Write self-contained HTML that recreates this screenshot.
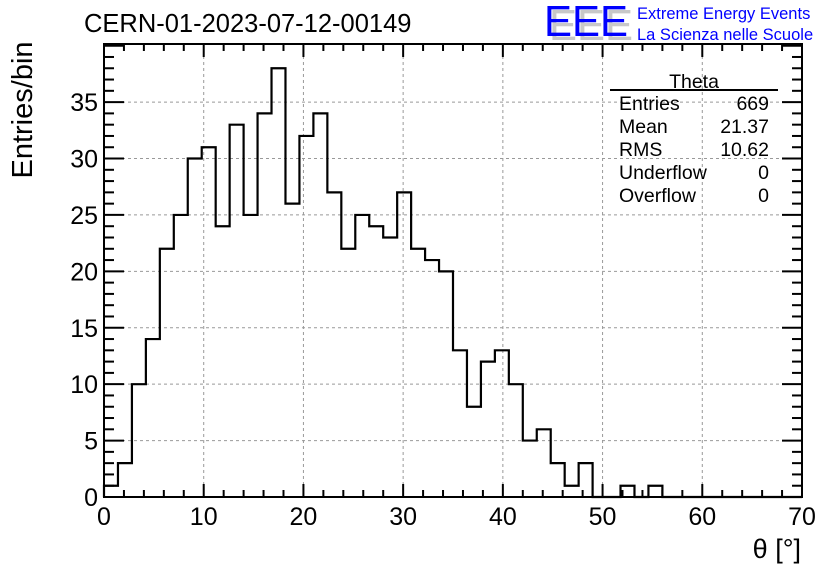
<!DOCTYPE html>
<html><head><meta charset="utf-8"><style>
html,body{margin:0;padding:0;background:#fff;}
svg{display:block;font-family:"Liberation Sans",sans-serif;}
</style></head><body>
<svg id="chart" width="836" height="572" viewBox="0 0 836 572">
<g id="grid"></g>
<g id="ticks"></g>
<g id="labels"></g>
<path id="hist" fill="none" stroke="#000" stroke-width="2.2"/>
<rect x="104" y="44" width="698" height="453" fill="none" stroke="#000" stroke-width="2"/>
<text x="84" y="32" font-size="25.5">CERN-01-2023-07-12-00149</text>
<text transform="translate(32,110) rotate(-90)" text-anchor="middle" font-size="29">Entries/bin</text>
<text x="801" y="558" text-anchor="end" font-size="27">θ [°]</text>
<g>
<text x="549" y="40" font-size="44" fill="#c8c8c8" textLength="84" lengthAdjust="spacingAndGlyphs">EEE</text>
<text x="544" y="36" font-size="44" fill="#0000ff" textLength="84" lengthAdjust="spacingAndGlyphs">EEE</text>
<text x="637" y="19" font-size="16.5" fill="#0000ff">Extreme Energy Events</text>
<text x="637" y="40" font-size="16.5" fill="#0000ff">La Scienza nelle Scuole</text>
</g>
<g font-size="19.5">
<text x="694" y="88" text-anchor="middle">Theta</text>
<line x1="610" y1="90" x2="778" y2="90" stroke="#000" stroke-width="2"/>
<text x="619" y="110">Entries</text><text x="769" y="110" text-anchor="end">669</text>
<text x="619" y="133">Mean</text><text x="769" y="133" text-anchor="end">21.37</text>
<text x="619" y="156">RMS</text><text x="769" y="156" text-anchor="end">10.62</text>
<text x="619" y="179">Underflow</text><text x="769" y="179" text-anchor="end">0</text>
<text x="619" y="202">Overflow</text><text x="769" y="202" text-anchor="end">0</text>
</g>
</svg>
<script>
const binEdgesStart = 0;
const binWidth = 1.4;
const counts = [1,3,10,14,22,25,30,31,24,33,25,34,38,26,32,34,27,22,25,24,23,27,22,21,20,13,8,12,13,10,5,6,3,1,3,0,0,1,0,1,0,0,0,0,0,0,0,0,0,0];
const xTicks = [0,10,20,30,40,50,60,70];
const yTicks = [0,5,10,15,20,25,30,35];

const X0=104,X1=802,Y0=497,Y1=44,XMAX=70,YMAX=40.15;
const sx=v=>X0+(v/XMAX)*(X1-X0);
const sy=v=>Y0-(v/YMAX)*(Y0-Y1);
const NS="http://www.w3.org/2000/svg";
function mk(tag,attrs,parent){const e=document.createElementNS(NS,tag);for(const k in attrs)e.setAttribute(k,attrs[k]);parent.appendChild(e);return e;}
const grid=document.getElementById('grid'),ticks=document.getElementById('ticks'),labels=document.getElementById('labels');

xTicks.forEach(t=>{
  const x=sx(t);
  if(t>0&&t<XMAX){const g=mk('line',{x1:x,y1:Y1,x2:x,y2:Y0,stroke:'#999','stroke-dasharray':'3,3','stroke-width':1},grid);
  
  }
  const l=mk('text',{x:x,y:525,'text-anchor':'middle','font-size':25},labels);l.textContent=t;
  
  
});
for(let v=0;v<=XMAX;v+=2){
  const x=sx(v),len=(v%10===0)?13:7;
  mk('line',{x1:x,y1:Y0,x2:x,y2:Y0-len,stroke:'#000','stroke-width':2},ticks);
  mk('line',{x1:x,y1:Y1,x2:x,y2:Y1+len,stroke:'#000','stroke-width':2},ticks);
}
yTicks.forEach(t=>{
  const y=sy(t);
  if(t>0){const g=mk('line',{x1:X0,y1:y,x2:X1,y2:y,stroke:'#999','stroke-dasharray':'3,3','stroke-width':1},grid);
  
  }
  const l=mk('text',{x:98,y:y+9,'text-anchor':'end','font-size':25},labels);l.textContent=t;
  
  
});
for(let v=0;v<=40;v+=1){
  const y=sy(v);if(y<Y1)break;const len=(v%5===0)?20:10;
  mk('line',{x1:X0,y1:y,x2:X0+len,y2:y,stroke:'#000','stroke-width':2},ticks);
  mk('line',{x1:X1,y1:y,x2:X1-len,y2:y,stroke:'#000','stroke-width':2},ticks);
}
let d='M'+sx(binEdgesStart)+','+sy(0);
counts.forEach((c,i)=>{
  const a=sx(binEdgesStart+i*binWidth),b=sx(binEdgesStart+(i+1)*binWidth);
  d+=' L'+a+','+sy(c)+' L'+b+','+sy(c);
});
document.getElementById('hist').setAttribute('d',d);
</script>
</body></html>
